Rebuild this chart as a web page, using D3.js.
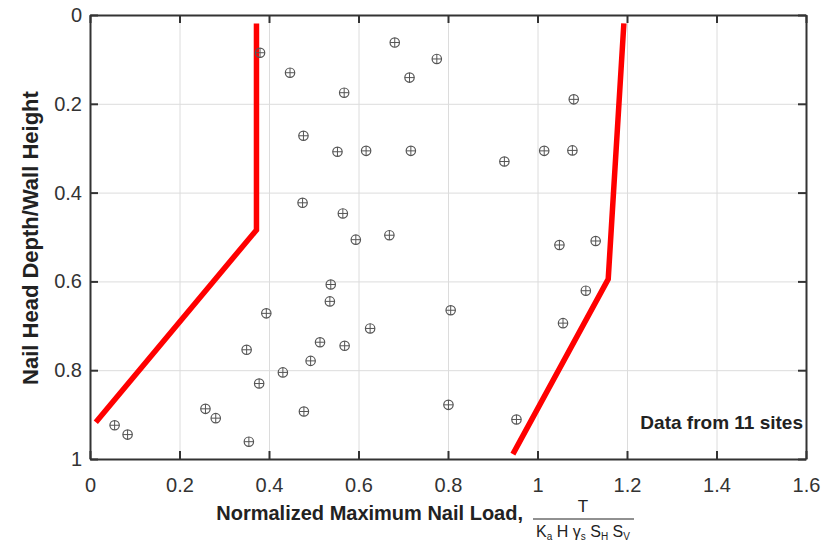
<!DOCTYPE html>
<html>
<head>
<meta charset="utf-8">
<script src="https://cdnjs.cloudflare.com/ajax/libs/d3/7.8.5/d3.min.js"></script>
<style>
  body { margin: 0; background: #fff; }
  text { font-family: Arial, "Liberation Sans", sans-serif; }
  .grid line { stroke: #dcdcdc; stroke-width: 1; }
  .grid path { display: none; }
</style>
</head>
<body>
<div id="vis"></div>
<script>

// measured points (normalized load, depth ratio)
var nailLoad = [0.38, 0.447, 0.568, 0.681, 0.775, 0.714, 0.477, 0.553, 0.617, 0.717,
  0.475, 0.565, 0.594, 0.669, 1.081, 0.926, 1.015, 1.078, 1.049, 1.130,
  1.108, 1.057, 0.806, 0.801, 0.953, 0.538, 0.536, 0.394, 0.626, 0.514,
  0.569, 0.350, 0.493, 0.431, 0.378, 0.258, 0.281, 0.478, 0.055, 0.084, 0.355];
var depthRatio = [0.085, 0.13, 0.175, 0.062, 0.099, 0.141, 0.272, 0.308, 0.306, 0.306,
  0.423, 0.447, 0.506, 0.496, 0.19, 0.33, 0.306, 0.305, 0.518, 0.509,
  0.621, 0.694, 0.665, 0.878, 0.911, 0.607, 0.645, 0.672, 0.706, 0.737,
  0.745, 0.754, 0.779, 0.805, 0.830, 0.887, 0.908, 0.893, 0.924, 0.945, 0.961];

// red envelope lines
var lowerEnvX = [0.372, 0.372, 0.013];
var lowerEnvY = [0.019, 0.484, 0.917];
var upperEnvX = [1.193, 1.158, 0.945];
var upperEnvY = [0.019, 0.595, 0.989];

var xTicks = [0, 0.2, 0.4, 0.6, 0.8, 1, 1.2, 1.4, 1.6];
var yTicks = [0, 0.2, 0.4, 0.6, 0.8, 1];

var width = 832;
var height = 543;
var margin = {top: 15, right: 26, bottom: 84, left: 90};

var svg = d3.select("#vis")
  .append("svg")
    .attr("width", width)
    .attr("height", height);

var g = svg.append("g").attr("transform", "translate(" + margin.left + "," + margin.top + ")");

var w = width - margin.left - margin.right;
var h = height - margin.top - margin.bottom;

var x = d3.scaleLinear().domain([0, 1.6]).range([0, w]);
var y = d3.scaleLinear().domain([0, 1]).range([0, h]);

// gridlines
g.append("g")
  .attr("class", "grid")
  .call(d3.axisLeft(y).tickValues(yTicks).tickSize(-w).tickFormat(""));
g.append("g")
  .attr("class", "grid")
  .attr("transform", "translate(0," + h + ")")
  .call(d3.axisBottom(x).tickValues(xTicks).tickSize(-h).tickFormat(""));

// axes with inward ticks
var fmt = function(d) { return d === 0 || d === 1 ? String(d) : d3.format(".1f")(d); };

var xAxis = g.append("g")
  .attr("transform", "translate(0," + h + ")")
  .call(d3.axisBottom(x).tickValues(xTicks).tickSizeInner(-8).tickSizeOuter(0).tickPadding(19).tickFormat(fmt));
var yAxis = g.append("g")
  .call(d3.axisLeft(y).tickValues(yTicks).tickSizeInner(-8).tickSizeOuter(0).tickPadding(8).tickFormat(fmt));
var xTop = g.append("g")
  .call(d3.axisTop(x).tickValues(xTicks).tickSizeInner(-8).tickSizeOuter(0).tickFormat(""));
var yRight = g.append("g")
  .attr("transform", "translate(" + w + ",0)")
  .call(d3.axisRight(y).tickValues(yTicks).tickSizeInner(-8).tickSizeOuter(0).tickFormat(""));

[xAxis, yAxis, xTop, yRight].forEach(function(a) {
  a.select(".domain").attr("stroke", "#333").attr("stroke-width", 2);
  a.selectAll(".tick line").attr("stroke", "#333").attr("stroke-width", 2);
  a.selectAll(".tick text").attr("fill", "#333").style("font-size", "20px");
});

// envelope lines
var line = d3.line()
  .x(function(d) { return x(d[0]); })
  .y(function(d) { return y(d[1]); });

g.append("path")
  .datum(d3.zip(lowerEnvX, lowerEnvY))
  .attr("fill", "none")
  .attr("stroke", "#ff0000")
  .attr("stroke-width", 5.5)
  .attr("d", line);
g.append("path")
  .datum(d3.zip(upperEnvX, upperEnvY))
  .attr("fill", "none")
  .attr("stroke", "#ff0000")
  .attr("stroke-width", 5.5)
  .attr("d", line);

// circle-plus markers
var pts = g.selectAll(".pt")
  .data(d3.zip(nailLoad, depthRatio))
  .enter().append("g")
    .attr("class", "pt")
    .attr("transform", function(d) { return "translate(" + x(d[0]) + "," + y(d[1]) + ")"; });
pts.append("circle")
  .attr("r", 4.7)
  .attr("fill", "none")
  .attr("stroke", "#555")
  .attr("stroke-width", 1.2);
pts.append("path")
  .attr("d", "M-4.7,0H4.7M0,-4.7V4.7")
  .attr("stroke", "#555")
  .attr("stroke-width", 1);

// annotation
g.append("text")
  .attr("x", w - 3)
  .attr("y", y(0.918))
  .attr("text-anchor", "end")
  .attr("dy", ".35em")
  .style("font-size", "19px")
  .style("font-weight", "bold")
  .attr("fill", "#222")
  .text("Data from 11 sites");

// y axis title
svg.append("text")
  .attr("transform", "translate(38," + 238 + ") rotate(-90)")
  .attr("text-anchor", "middle")
  .style("font-size", "22px")
  .style("font-weight", "bold")
  .attr("fill", "#222")
  .text("Nail Head Depth/Wall Height");

// x axis title with fraction
svg.append("text")
  .attr("x", 523)
  .attr("y", 520)
  .attr("text-anchor", "end")
  .style("font-size", "20px")
  .style("font-weight", "bold")
  .attr("fill", "#222")
  .text("Normalized Maximum Nail Load,");

svg.append("text")
  .attr("x", 583)
  .attr("y", 512)
  .attr("text-anchor", "middle")
  .style("font-size", "17px")
  .attr("fill", "#222")
  .text("T");

svg.append("line")
  .attr("x1", 533).attr("x2", 634)
  .attr("y1", 519).attr("y2", 519)
  .attr("stroke", "#222")
  .attr("stroke-width", 1);

var den = svg.append("text")
  .attr("x", 583)
  .attr("y", 537)
  .attr("text-anchor", "middle")
  .style("font-size", "16px")
  .attr("fill", "#222");
den.append("tspan").text("K");
den.append("tspan").attr("dy", 3).style("font-size", "10px").text("a");
den.append("tspan").attr("dy", -3).text(" H γ");
den.append("tspan").attr("dy", 3).style("font-size", "10px").text("s");
den.append("tspan").attr("dy", -3).text(" S");
den.append("tspan").attr("dy", 3).style("font-size", "10px").text("H");
den.append("tspan").attr("dy", -3).text(" S");
den.append("tspan").attr("dy", 3).style("font-size", "10px").text("V");

</script>
</body>
</html>
